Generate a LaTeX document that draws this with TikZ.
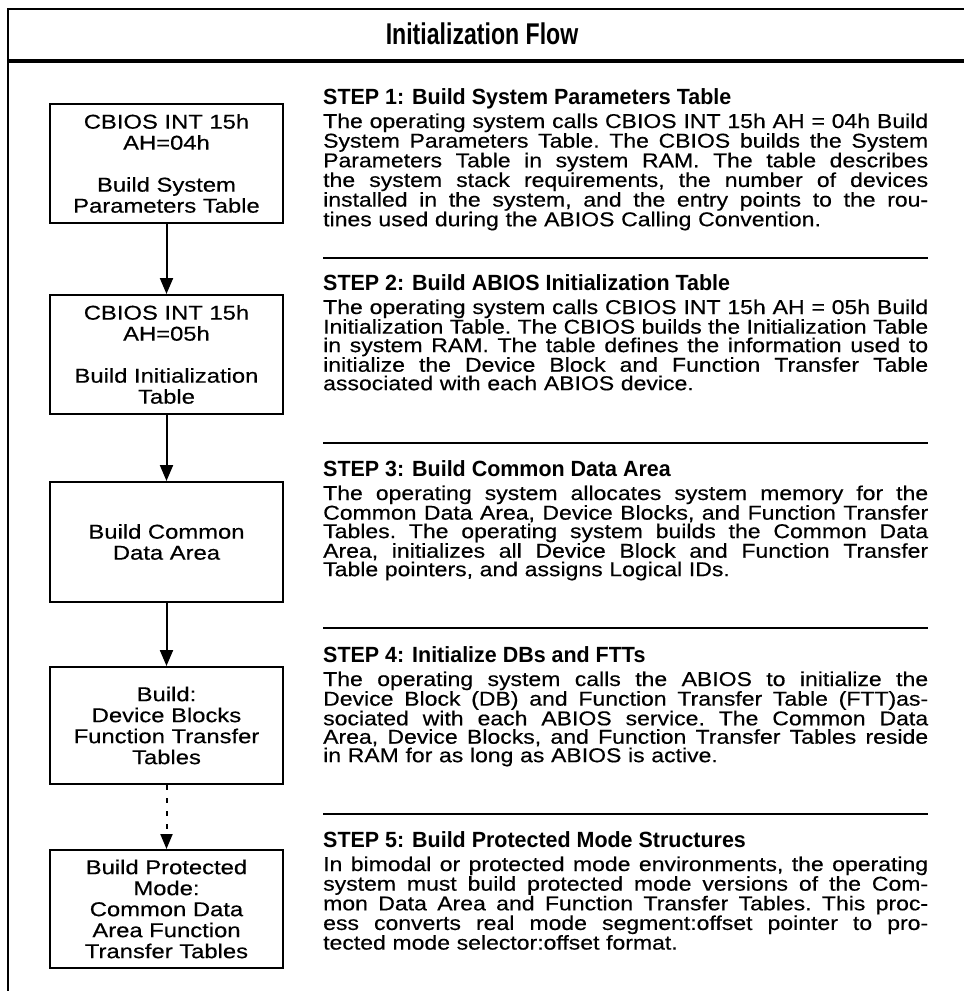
\documentclass[tikz,border=0pt]{standalone}
\usepackage{fontspec}
\setmainfont{Liberation Sans}
\newfontfamily\bodyf[FakeStretch=1.15,FakeBold=0.4]{Liberation Sans}
\newfontfamily\boxf[FakeStretch=1.19,FakeBold=0.4]{Liberation Sans}
\newfontfamily\headf[FakeStretch=0.975]{Liberation Sans}
\newfontfamily\titlef[FakeStretch=0.77]{Liberation Sans}
\usetikzlibrary{arrows.meta}
\newcommand{\jl}[1]{{\spaceskip=\fontdimen2\font plus 1fil minus 0.12em
  \xspaceskip=\spaceskip\makebox[605pt][s]{#1}}}
\tikzset{
  frameline/.style={line width=2pt},
  flowbox/.style={draw, line width=2pt, minimum width=233pt, inner sep=0pt, align=center,
    font=\boxf\fontsize{20}{21}\selectfont},
  stephead/.style={anchor=base west, inner sep=0pt, font=\headf\bfseries\fontsize{22}{24}\selectfont},
  bodytext/.style={anchor=base west, inner sep=0pt, align=left, text width=605pt,
    font=\bodyf\fontsize{20}{18.45}\selectfont\frenchspacing},
  rulel/.style={line width=2.2pt},
  arr/.style={line width=2pt, -{Triangle[length=16pt,width=13pt]}},
  darr/.style={line width=2pt, dash pattern=on 5pt off 8pt, -{Triangle[length=15pt,width=12pt]}}
}
\begin{document}
\begin{tikzpicture}[x=1pt,y=-1pt]
\useasboundingbox (0,0) rectangle (964,991);
% frame
\draw[frameline] (8,991) -- (8,8.5) -- (964,8.5);
\draw[line width=4pt] (7,60.5) -- (964,60.5);
\node[anchor=base, inner sep=0pt, font=\titlef\bfseries\fontsize{30}{32}\selectfont] (title) at (482,44) {Initialization Flow};
% flow boxes
\node[flowbox, minimum height=119pt] (b1) at (166.5,163.5) {CBIOS INT 15h\\AH=04h\\[21pt]Build System\\Parameters Table};
\node[flowbox, minimum height=119pt] (b2) at (166.5,354.5) {CBIOS INT 15h\\AH=05h\\[21pt]Build Initialization\\Table};
\node[flowbox, minimum height=120pt] (b3) at (166.5,542) {Build Common\\Data Area};
\node[flowbox, minimum height=117pt] (b4) at (166.5,725.5) {Build:\\Device Blocks\\Function Transfer\\Tables};
\node[flowbox, minimum height=118pt] (b5) at (166.5,909) {Build Protected\\Mode:\\Common Data\\Area Function\\Transfer Tables};
\draw[arr] (b1.south) -- (b2.north);
\draw[arr] (b2.south) -- (b3.north);
\draw[arr] (b3.south) -- (b4.north);
\draw[darr] (b4.south) -- (b5.north);
% step texts
\node[stephead] (h1) at (323,104) {STEP 1: Build System Parameters Table};
\node[bodytext] (t1) at (323,128) {\jl{The operating system calls CBIOS INT 15h AH = 04h Build}\\
\jl{System Parameters Table. The CBIOS builds the System}\\
\jl{Parameters Table in system RAM. The table describes}\\
\jl{the system stack requirements, the number of devices}\\
\jl{installed in the system, and the entry points to the rou-}\\
tines used during the ABIOS Calling Convention.};
\draw[rulel] (323,258) -- (928,258);
\node[stephead] (h2) at (323,290) {STEP 2: Build ABIOS Initialization Table};
\node[bodytext] (t2) at (323,314) {\jl{The operating system calls CBIOS INT 15h AH = 05h Build}\\
\jl{Initialization Table. The CBIOS builds the Initialization Table}\\
\jl{in system RAM. The table defines the information used to}\\
\jl{initialize the Device Block and Function Transfer Table}\\
associated with each ABIOS device.};
\draw[rulel] (323,443) -- (928,443);
\node[stephead] (h3) at (323,476) {STEP 3: Build Common Data Area};
\node[bodytext] (t3) at (323,500) {\jl{The operating system allocates system memory for the}\\
\jl{Common Data Area, Device Blocks, and Function Transfer}\\
\jl{Tables. The operating system builds the Common Data}\\
\jl{Area, initializes all Device Block and Function Transfer}\\
Table pointers, and assigns Logical IDs.};
\draw[rulel] (323,628) -- (928,628);
\node[stephead] (h4) at (323,662) {STEP 4: Initialize DBs and FTTs};
\node[bodytext] (t4) at (323,686) {\jl{The operating system calls the ABIOS to initialize the}\\
\jl{Device Block (DB) and Function Transfer Table (FTT)as-}\\
\jl{sociated with each ABIOS service. The Common Data}\\
\jl{Area, Device Blocks, and Function Transfer Tables reside}\\
in RAM for as long as ABIOS is active.};
\draw[rulel] (323,814) -- (928,814);
\node[stephead] (h5) at (323,847) {STEP 5: Build Protected Mode Structures};
\node[bodytext] (t5) at (323,871) {\jl{In bimodal or protected mode environments, the operating}\\
\jl{system must build protected mode versions of the Com-}\\
\jl{mon Data Area and Function Transfer Tables. This proc-}\\
\jl{ess converts real mode segment:offset pointer to pro-}\\
tected mode selector:offset format.};
\end{tikzpicture}
\end{document}
